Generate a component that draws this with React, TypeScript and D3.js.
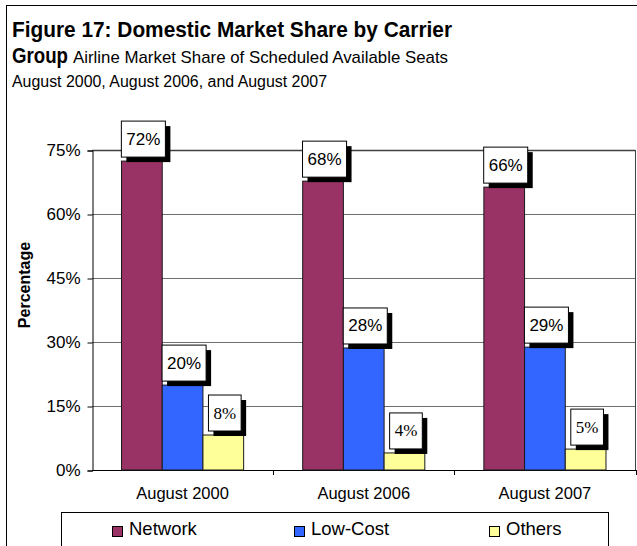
import React, { useEffect, useRef } from "react";
import * as d3 from "d3";

const categories = ["August 2000", "August 2006", "August 2007"];
const seriesNames = ["Network", "Low-Cost", "Others"];
const network = [72.4, 67.7, 66.3];
const lowCost = [19.9, 28.6, 28.8];
const others = [8.2, 4.0, 4.9];
const labelsNetwork = ["72%", "68%", "66%"];
const labelsLowCost = ["20%", "28%", "29%"];
const labelsOthers = ["8%", "4%", "5%"];
const yTicks = [0, 15, 30, 45, 60, 75];

const colors = ["#993366", "#3366FF", "#FFFF99"];
const labelFonts = ["Liberation Sans, Arial, sans-serif", "Liberation Sans, Arial, sans-serif", "Liberation Serif, Times New Roman, serif"];
const SANS = "Liberation Sans, Arial, sans-serif";

export default function App() {
  const ref = useRef<SVGSVGElement | null>(null);

  useEffect(() => {
    const svg = d3.select(ref.current);
    svg.selectAll("*").remove();
    const left = 92, right = 635.5, top = 150, bottom = 470;

    // outer frame
    svg.append("rect").attr("x", 6.5).attr("y", 5.5).attr("width", 640).attr("height", 600)
      .attr("fill", "white").attr("stroke", "#000").attr("stroke-width", 1);

    // title
    const t = svg.append("g").attr("font-family", SANS).attr("fill", "#000");
    t.append("text").attr("x", 12).attr("y", 37).attr("font-size", 22).attr("font-weight", "bold")
      .attr("textLength", 440).attr("lengthAdjust", "spacingAndGlyphs")
      .text("Figure 17: Domestic Market Share by Carrier");
    t.append("text").attr("x", 12).attr("y", 63).attr("font-size", 22).attr("font-weight", "bold")
      .attr("textLength", 56).attr("lengthAdjust", "spacingAndGlyphs").text("Group");
    t.append("text").attr("x", 73).attr("y", 63).attr("font-size", 17)
      .attr("textLength", 375).attr("lengthAdjust", "spacingAndGlyphs")
      .text("Airline Market Share of Scheduled Available Seats");
    t.append("text").attr("x", 12).attr("y", 87).attr("font-size", 16)
      .attr("textLength", 315).attr("lengthAdjust", "spacingAndGlyphs")
      .text("August 2000, August 2006, and August 2007");

    const y = d3.scaleLinear().domain([0, 75]).range([bottom, top]);
    const x0 = d3.scaleBand<string>().domain(categories).range([left, right]).paddingInner(0).paddingOuter(0);
    const x1 = d3.scaleBand<string>().domain(seriesNames).range([0, x0.bandwidth()]).paddingInner(0).paddingOuter(0.725);

    // gridlines
    svg.append("g").selectAll("line").data(yTicks.filter(d => d > 0)).join("line")
      .attr("x1", left).attr("x2", right).attr("y1", d => Math.round(y(d)) + 0.5).attr("y2", d => Math.round(y(d)) + 0.5)
      .attr("stroke", d => (d === 75 ? "#404040" : "#6e6e6e")).attr("stroke-width", d => (d === 75 ? 1.5 : 1));
    // right border
    svg.append("line").attr("x1", right).attr("x2", right).attr("y1", y(75)).attr("y2", bottom)
      .attr("stroke", "#404040");

    // y axis
    const yAxis = d3.axisLeft(y).tickValues(yTicks).tickFormat(d => `${d}%`).tickSize(5).tickPadding(7);
    const ya = svg.append("g").attr("transform", `translate(${left + 0.5},0.5)`).call(yAxis);
    ya.selectAll("text").attr("font-size", 17).attr("font-family", SANS).attr("fill", "#000");
    ya.selectAll("line,path").attr("stroke", "#000");

    // x axis
    svg.append("line").attr("x1", left).attr("x2", right + 0.5).attr("y1", bottom + 0.5).attr("y2", bottom + 0.5).attr("stroke", "#000");
    svg.append("g").selectAll("line").data(categories).join("line")
      .attr("x1", d => Math.round(x0(d)! + x0.bandwidth()) + 0.5).attr("x2", d => Math.round(x0(d)! + x0.bandwidth()) + 0.5)
      .attr("y1", bottom).attr("y2", bottom + 5).attr("stroke", "#000");
    svg.append("g").selectAll("text").data(categories).join("text")
      .attr("x", d => x0(d)! + x0.bandwidth() / 2).attr("y", 499).attr("text-anchor", "middle")
      .attr("font-size", 16.5).attr("font-family", SANS).text(d => d);

    // y title
    svg.append("text").attr("transform", `translate(30,285) rotate(-90)`).attr("text-anchor", "middle")
      .attr("font-size", 16).attr("font-weight", "bold").attr("font-family", SANS).text("Percentage");

    const values = [network, lowCost, others];
    const labels = [labelsNetwork, labelsLowCost, labelsOthers];

    // bars
    seriesNames.forEach((s, si) => {
      svg.append("g").selectAll("rect").data(categories).join("rect")
        .attr("x", d => x0(d)! + x1(s)!).attr("width", x1.bandwidth())
        .attr("y", (d, i) => y(values[si][i])).attr("height", (d, i) => bottom - y(values[si][i]))
        .attr("fill", colors[si]).attr("stroke", "#1a1a1a").attr("stroke-width", 1);
    });

    // data labels
    seriesNames.forEach((s, si) => {
      categories.forEach((c, i) => {
        const cx = x0(c)! + x1(s)! + x1.bandwidth() / 2 + 1.5;
        const by = y(values[si][i]) - 4;
        const g = svg.append("g");
        const txt = g.append("text").attr("x", cx).attr("y", by - 18).attr("text-anchor", "middle")
          .attr("dominant-baseline", "central").attr("font-size", 17).attr("font-family", labelFonts[si])
          .text(labels[si][i]);
        const w = (txt.node() as SVGTextElement).getComputedTextLength() + 10;
        const h = 36;
        g.insert("rect", "text").attr("x", cx - w / 2 + 5).attr("y", by - h + 5).attr("width", w).attr("height", h).attr("fill", "#000");
        g.insert("rect", "text").attr("x", cx - w / 2).attr("y", by - h).attr("width", w).attr("height", h)
          .attr("fill", "#fff").attr("stroke", "#000").attr("stroke-width", 1);
      });
    });

    // legend
    svg.append("rect").attr("x", 61.5).attr("y", 512.5).attr("width", 547).attr("height", 60)
      .attr("fill", "#fff").attr("stroke", "#000");
    const legX = [112, 294, 489];
    seriesNames.forEach((s, si) => {
      svg.append("rect").attr("x", legX[si] + 0.5).attr("y", 526.5).attr("width", 10).attr("height", 10)
        .attr("fill", colors[si]).attr("stroke", "#000");
      svg.append("text").attr("x", legX[si] + 17).attr("y", 535).attr("font-size", 18.5).attr("font-family", SANS).text(s);
    });
  }, []);

  return (
    <div style={{ position: "absolute", left: 0, top: 0 }}>
      <svg ref={ref} width={637} height={546} style={{ display: "block", background: "#fff" }} />
    </div>
  );
}
